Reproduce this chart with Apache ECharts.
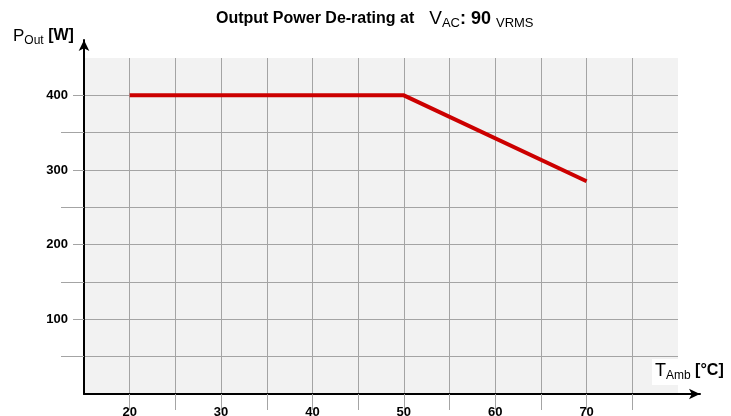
<!DOCTYPE html>
<html><head><meta charset="utf-8">
<script src="https://cdn.jsdelivr.net/npm/echarts@6/dist/echarts.min.js"></script>
<style>html,body{margin:0;padding:0;background:#fff}#c{width:731px;height:416px}</style>
</head><body><div id="c"></div>
<script>
const tempC = [20, 50, 70];
const powerW = [400, 400, 285];
const xLabelValues = [20, 30, 40, 50, 60, 70];
const xTickValues = [20, 25, 30, 35, 40, 45, 50, 55, 60, 65, 70, 75];
const yLabelValues = [100, 200, 300, 400];
const yTickValues = [50, 100, 150, 200, 250, 300, 350, 400];

const font = 'Arial, "Liberation Sans", sans-serif';
function richSet(big, bold, sub) {
  return {
    v: {fontFamily: font, fontSize: big, fontWeight: 'normal', color: '#000', lineHeight: 22, verticalAlign: 'middle'},
    b: {fontFamily: font, fontSize: bold, fontWeight: 'bold', color: '#000', lineHeight: 22, verticalAlign: 'middle'},
    s: {fontFamily: font, fontSize: sub, fontWeight: 'normal', color: '#000', lineHeight: 10, verticalAlign: 'bottom'}
  };
}
const chart = echarts.init(document.getElementById('c'));
const titleRich = richSet(19, 18, 13);
titleRich.a = {fontFamily: font, fontSize: 16, fontWeight: 'bold', color: '#000', lineHeight: 22, verticalAlign: 'middle'};
chart.setOption({
  animation: false,
  title: [{
    text: '{a|Output Power De-rating at}   {v|V}{s|AC}{b|: 90} {s|VRMS}',
    left: 211, top: 3,
    textStyle: {fontWeight: 'normal', rich: titleRich}
  }, {
    text: '{v|P}{s|Out}{b| [W]}',
    left: 8, top: 20,
    textStyle: {fontWeight: 'normal', rich: richSet(17, 16, 12)}
  }, {
    text: '{v|T}{s|Amb}{b| [°C]}',
    left: 652, top: 357,
    backgroundColor: '#fff',
    padding: [3, 6, 3, 3],
    textStyle: {fontWeight: 'normal', rich: richSet(18, 16, 12)}
  }],
  grid: [
    {left: 84, right: 53, top: 58, bottom: 22, show: true, backgroundColor: '#f2f2f2', borderWidth: 0, outerBoundsMode: 'none'},
    {left: 84, right: 31, top: 40, bottom: 22, outerBoundsMode: 'none'}
  ],
  xAxis: [{
    gridIndex: 0, type: 'value', min: 15, max: 80,
    axisLine: {show: false},
    axisTick: {show: true, inside: false, length: 16, customValues: xTickValues, lineStyle: {color: '#a4a4a4', width: 1}},
    axisLabel: {customValues: xLabelValues, margin: 12, fontFamily: font, fontSize: 13, fontWeight: 'bold', color: '#000'},
    splitLine: {show: true, lineStyle: {color: '#a4a4a4', width: 1}}
  }, {
    gridIndex: 1, type: 'value', min: 0, max: 1,
    axisLine: {show: true, symbol: ['none', 'arrow'], symbolSize: [8, 11], lineStyle: {color: '#000', width: 2}},
    axisTick: {show: false}, axisLabel: {show: false}, splitLine: {show: false}
  }],
  yAxis: [{
    gridIndex: 0, type: 'value', min: 0, max: 450,
    axisLine: {show: false},
    axisTick: {show: true, inside: false, length: 23, customValues: yTickValues, lineStyle: {color: '#a4a4a4', width: 1}},
    axisLabel: {customValues: yLabelValues, margin: 11, padding: [2, 5, 2, 2], backgroundColor: '#fff', fontFamily: font, fontSize: 13, fontWeight: 'bold', color: '#000'},
    splitLine: {show: true, lineStyle: {color: '#a4a4a4', width: 1}}
  }, {
    gridIndex: 1, type: 'value', min: 0, max: 1,
    axisLine: {show: true, symbol: ['none', 'arrow'], symbolSize: [8, 11], lineStyle: {color: '#000', width: 2}},
    axisTick: {show: false}, axisLabel: {show: false}, splitLine: {show: false}
  }],
  series: [{
    type: 'line', xAxisIndex: 0, yAxisIndex: 0,
    data: tempC.map((t, i) => [t, powerW[i]]),
    showSymbol: false, symbol: 'none',
    lineStyle: {color: '#cc0000', width: 4}
  }]
});
</script></body></html>
